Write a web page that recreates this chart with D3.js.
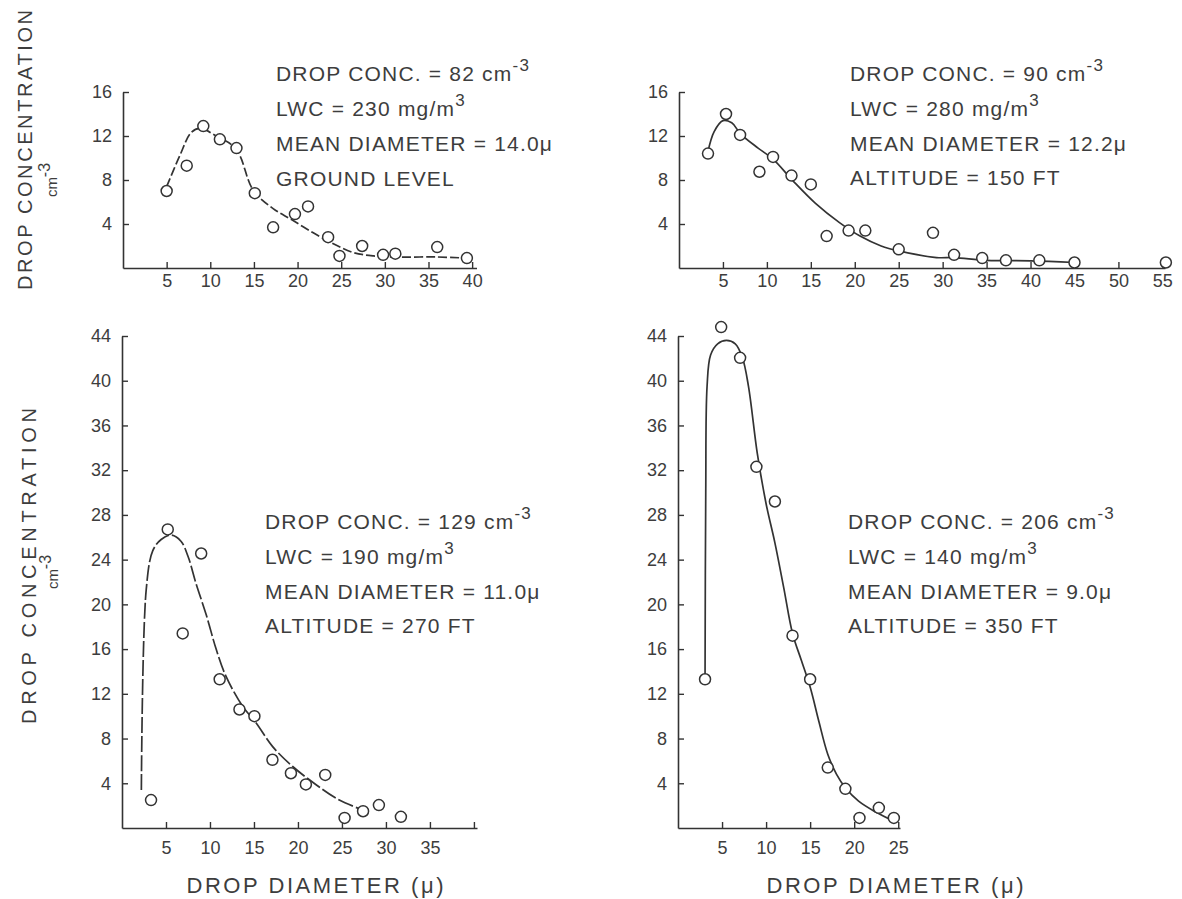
<!DOCTYPE html>
<html><head><meta charset="utf-8">
<script src="https://cdn.jsdelivr.net/npm/d3@7"></script>
<style>
body{margin:0;background:#fff;}
svg{display:block;font-family:"Liberation Sans",Arial,Helvetica,sans-serif;}
</style></head><body>
<svg id="c" width="1182" height="899"></svg>
<script>
// ---------- DATA ----------
// Panel 1: ground level
const p1PointX = [5, 7.3, 9.2, 11.1, 13.0, 15.1, 17.2, 19.7, 21.2, 23.5, 24.8, 27.4, 29.8, 31.2, 36.0, 39.4];
const p1PointY = [7.0, 9.3, 12.9, 11.7, 10.9, 6.8, 3.7, 4.9, 5.6, 2.8, 1.1, 2.0, 1.2, 1.3, 1.9, 0.9];
const p1CurveX = [5, 6.5, 7.8, 8.8, 10.7, 12.6, 13.4, 14.9, 17.2, 19.3, 21.8, 24.1, 26.4, 28.7, 31.7, 36, 39.4];
const p1CurveY = [7.4, 10.2, 12.3, 12.7, 12.0, 11.1, 10.2, 7.1, 5.4, 4.4, 3.2, 2.2, 1.4, 1.1, 1.0, 1.0, 0.9];
const p1XTicks = [5, 10, 15, 20, 25, 30, 35, 40];
const p1YTicks = [4, 8, 12, 16];
const p1Notes = ["DROP CONC. = 82 cm^-3", "LWC = 230 mg/m^3", "MEAN DIAMETER = 14.0μ", "GROUND  LEVEL"];

// Panel 2: altitude 150 ft
const p2PointX = [3.3, 5.35, 6.95, 9.15, 10.7, 12.8, 15.0, 16.8, 19.3, 21.2, 25.0, 28.9, 31.3, 34.5, 37.2, 41.0, 45.0, 55.4];
const p2PointY = [10.4, 14.0, 12.1, 8.75, 10.1, 8.4, 7.6, 2.9, 3.4, 3.4, 1.7, 3.2, 1.2, 0.9, 0.7, 0.7, 0.5, 0.5];
const p2CurveX = [3.3, 4.0, 5.0, 6.0, 7.0, 9.0, 10.7, 13.0, 15.5, 18.3, 20.6, 23.0, 25.0, 29.3, 31.3, 35, 40, 45];
const p2CurveY = [10.6, 12.4, 13.4, 13.2, 12.2, 10.9, 9.9, 7.9, 5.9, 4.1, 2.9, 2.0, 1.55, 0.95, 0.95, 0.7, 0.65, 0.5];
const p2XTicks = [5, 10, 15, 20, 25, 30, 35, 40, 45, 50, 55];
const p2YTicks = [4, 8, 12, 16];
const p2Notes = ["DROP CONC. = 90 cm^-3", "LWC = 280 mg/m^3", "MEAN DIAMETER = 12.2μ", "ALTITUDE = 150 FT"];

// Panel 3: altitude 270 ft
const p3PointX = [3.3, 5.2, 6.9, 9.0, 11.1, 13.35, 15.05, 17.1, 19.2, 20.9, 23.1, 25.3, 27.4, 29.2, 31.7];
const p3PointY = [2.5, 26.7, 17.4, 24.55, 13.3, 10.6, 10.0, 6.1, 4.9, 3.9, 4.75, 0.9, 1.5, 2.05, 1.0];
const p3CurveX = [2.2, 2.75, 3.5, 4.45, 5.6, 6.7, 7.5, 8.4, 9.6, 10.7, 11.8, 13.7, 15.25, 17.1, 19.4, 22.1, 24.7, 27.4];
const p3CurveY = [3.4, 21.3, 24.8, 25.8, 26.2, 25.65, 24.3, 21.9, 19.0, 16.0, 13.6, 10.9, 9.4, 7.3, 5.5, 3.85, 2.5, 1.6];
const p3XTicks = [5, 10, 15, 20, 25, 30, 35, 40];
const p3XLabels = [5, 10, 15, 20, 25, 30, 35];
const p3YTicks = [4, 8, 12, 16, 20, 24, 28, 32, 36, 40, 44];
const p3Notes = ["DROP CONC. = 129 cm^-3", "LWC = 190 mg/m^3", "MEAN DIAMETER = 11.0μ", "ALTITUDE = 270 FT"];

// Panel 4: altitude 350 ft
const p4PointX = [3.07, 4.9, 7.05, 8.9, 11.0, 13.0, 15.0, 17.0, 19.0, 20.6, 22.8, 24.5];
const p4PointY = [13.3, 44.8, 42.05, 32.3, 29.2, 17.2, 13.3, 5.4, 3.5, 0.9, 1.8, 0.9];
const p4CurveX = [3.07, 3.15, 3.3, 3.7, 4.5, 5.5, 6.5, 7.3, 8.0, 9.0, 10.0, 11.0, 12.0, 13.0, 14.0, 15.0, 16.0, 17.0, 18.0, 19.0, 20.5, 22.5, 24.5];
const p4CurveY = [13.3, 30, 39.5, 42.3, 43.3, 43.6, 43.3, 42.1, 39.5, 33.5, 29.0, 25.5, 21.5, 17.4, 15.0, 12.6, 9.5, 6.6, 4.8, 3.6, 2.4, 1.4, 0.6];
const p4XTicks = [5, 10, 15, 20, 25];
const p4YTicks = [4, 8, 12, 16, 20, 24, 28, 32, 36, 40, 44];
const p4Notes = ["DROP CONC. = 206 cm^-3", "LWC = 140 mg/m^3", "MEAN DIAMETER = 9.0μ", "ALTITUDE = 350 FT"];

const yAxisTitle = "DROP CONCENTRATION";
const xAxisTitle = "DROP DIAMETER (μ)";

// ---------- DRAWING ----------
const svg = d3.select("#c");
const INK = "#333";
const TXT = "#3d3d3d";

const panels = [
  {px:p1PointX, py:p1PointY, cx:p1CurveX, cy:p1CurveY, xTicks:p1XTicks, xLabels:p1XTicks, yTicks:p1YTicks, notes:p1Notes,
   xMax:40.5, yMax:16, left:123, right:476.5, bottom:268, top:92, pad:6, noteX:276, noteY:[81,116,151,186], dash:"9,3"},
  {px:p2PointX, py:p2PointY, cx:p2CurveX, cy:p2CurveY, xTicks:p2XTicks, xLabels:p2XTicks, yTicks:p2YTicks, notes:p2Notes,
   xMax:55.3, yMax:16, left:679, right:1165, bottom:268, top:92, pad:6, noteX:850, noteY:[81,116,151,185], dash:null},
  {px:p3PointX, py:p3PointY, cx:p3CurveX, cy:p3CurveY, xTicks:p3XTicks, xLabels:p3XLabels, yTicks:p3YTicks, notes:p3Notes,
   xMax:40.35, yMax:44, left:122, right:477, bottom:828, top:336, pad:13, noteX:265, noteY:[529,564,599,633], dash:"16,3"},
  {px:p4PointX, py:p4PointY, cx:p4CurveX, cy:p4CurveY, xTicks:p4XTicks, xLabels:p4XTicks, yTicks:p4YTicks, notes:p4Notes,
   xMax:25.2, yMax:44, left:678, right:900, bottom:828, top:336, pad:13, noteX:848, noteY:[529,564,599,633], dash:null}
];

panels.forEach(p => {
  const x = d3.scaleLinear().domain([0, p.xMax]).range([p.left, p.right]);
  const y = d3.scaleLinear().domain([0, p.yMax]).range([p.bottom, p.top]);
  const g = svg.append("g");

  const gx = g.append("g").attr("transform", `translate(0,${p.bottom})`)
    .call(d3.axisBottom(x).tickValues(p.xTicks).tickSizeInner(-6).tickSizeOuter(0).tickPadding(p.pad)
      .tickFormat(d => p.xLabels.includes(d) ? d : ""));
  const gy = g.append("g").attr("transform", `translate(${p.left},0)`)
    .call(d3.axisLeft(y).tickValues(p.yTicks).tickSizeInner(-6).tickSizeOuter(0).tickPadding(11));
  [gx, gy].forEach(a => {
    a.select(".domain").attr("stroke", INK).attr("stroke-width", 1.6);
    a.selectAll(".tick line").attr("stroke", INK).attr("stroke-width", 1.4);
    a.selectAll(".tick text").attr("fill", TXT).style("font-size", "18px");
  });

  const line = d3.line().x(d => x(d[0])).y(d => y(d[1])).curve(d3.curveCatmullRom.alpha(0.5));
  g.append("path").datum(p.cx.map((v, i) => [v, p.cy[i]]))
    .attr("d", line).attr("fill", "none").attr("stroke", INK).attr("stroke-width", 1.7)
    .attr("stroke-dasharray", p.dash);

  g.selectAll("circle").data(p.px.map((v, i) => [v, p.py[i]])).join("circle")
    .attr("cx", d => x(d[0])).attr("cy", d => y(d[1])).attr("r", 5.5)
    .attr("fill", "#fff").attr("stroke", INK).attr("stroke-width", 1.5);

  p.notes.forEach((s, i) => {
    const parts = s.split("^");
    const t = g.append("text").attr("x", p.noteX).attr("y", p.noteY[i])
      .attr("fill", TXT).style("font-size", "21px").style("letter-spacing", "1.2px");
    t.append("tspan").text(parts[0]);
    if (parts[1]) t.append("tspan").attr("dy", -10).style("font-size", "17px").text(parts[1]);
  });
});

// Y axis titles (rotated)
function yTitle(cx, cy, len, cmx, cmy) {
  svg.append("text").attr("transform", `translate(${cx},${cy}) rotate(-90)`)
    .attr("text-anchor", "middle").attr("fill", TXT).style("font-size", "20px")
    .attr("textLength", len).attr("lengthAdjust", "spacing").text(yAxisTitle);
  const t = svg.append("text").attr("transform", `translate(${cmx},${cmy}) rotate(-90)`)
    .attr("text-anchor", "middle").attr("fill", TXT).style("font-size", "15px");
  t.append("tspan").text("cm");
  t.append("tspan").attr("dy", -7).style("font-size", "16px").text("-3");
}
yTitle(32, 150, 280, 57, 180);
yTitle(36, 566, 316, 58, 572);

// X axis titles
svg.append("text").attr("x", 315).attr("y", 893).attr("text-anchor", "middle").attr("fill", TXT)
  .style("font-size", "22px").attr("textLength", 257).attr("lengthAdjust", "spacing").text(xAxisTitle);
svg.append("text").attr("x", 895).attr("y", 893).attr("text-anchor", "middle").attr("fill", TXT)
  .style("font-size", "22px").attr("textLength", 257).attr("lengthAdjust", "spacing").text(xAxisTitle);
</script>
</body></html>
